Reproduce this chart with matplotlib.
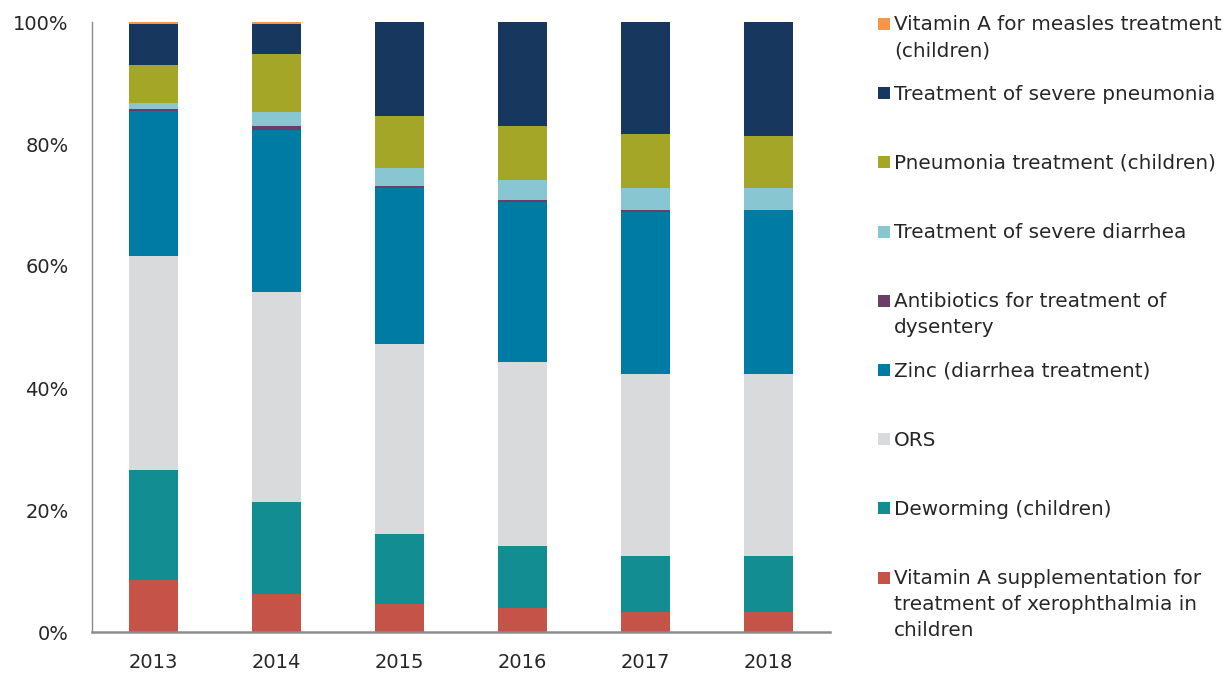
import matplotlib
matplotlib.use("Agg")
import matplotlib.pyplot as plt
import numpy as np

years = ["2013", "2014", "2015", "2016", "2017", "2018"]

# series, bottom to top (percent of total)
vita_xero = [8.5, 6.2, 4.6, 3.9, 3.3, 3.3]
deworming = [18.0, 15.1, 11.5, 10.2, 9.2, 9.2]
ors = [35.1, 34.4, 31.1, 30.2, 29.8, 29.8]
zinc = [23.8, 26.6, 25.6, 26.2, 26.6, 26.9]
antibiotics = [0.4, 0.65, 0.33, 0.33, 0.33, 0.0]
severe_diarrhea = [1.0, 2.3, 2.95, 3.3, 3.6, 3.6]
pneumonia = [6.2, 9.5, 8.5, 8.85, 8.85, 8.5]
severe_pneumonia = [6.6, 4.9, 15.4, 17.0, 18.4, 18.7]
vita_measles = [0.4, 0.4, 0.0, 0.0, 0.0, 0.0]

series = [
    (vita_xero, "Vitamin A supplementation for\ntreatment of xerophthalmia in\nchildren", "#C55347"),
    (deworming, "Deworming (children)", "#128E92"),
    (ors, "ORS", "#D9DADC"),
    (zinc, "Zinc (diarrhea treatment)", "#007BA4"),
    (antibiotics, "Antibiotics for treatment of\ndysentery", "#6B3D6A"),
    (severe_diarrhea, "Treatment of severe diarrhea", "#88C6D1"),
    (pneumonia, "Pneumonia treatment (children)", "#A4A627"),
    (severe_pneumonia, "Treatment of severe pneumonia", "#17375E"),
    (vita_measles, "Vitamin A for measles treatment\n(children)", "#F79646"),
]

plt.rcParams['font.family'] = ['DejaVu Sans']
W, H = 1229, 675
fig = plt.figure(figsize=(W / 100, H / 100), dpi=100)
ax = fig.add_axes([92 / W, 1 - 632 / H, (830 - 92) / W, (632 - 22) / H])

x = np.arange(len(years))
bottom = np.zeros(len(years))
for vals, label, color in series:
    v = np.array(vals, dtype=float)
    ax.bar(x, v, bottom=bottom, width=0.4, color=color, label=label, linewidth=0)
    bottom += v

ax.set_xlim(-0.5, len(years) - 0.5)
ax.set_ylim(0, 100)
ax.set_yticks([0, 20, 40, 60, 80, 100])
ax.set_yticklabels([f"{t}%" for t in [0, 20, 40, 60, 80, 100]])
ax.set_xticks(x)
ax.set_xticklabels(years)
ax.tick_params(axis='both', length=0, labelsize=14, colors='#262626')
ax.tick_params(axis='y', pad=17)
ax.tick_params(axis='x', pad=15)
for s in ['top', 'right']:
    ax.spines[s].set_visible(False)
ax.spines['left'].set_color('#8C8C8C')
ax.spines['left'].set_linewidth(1.0)
ax.spines['bottom'].set_color('#8C8C8C')
ax.spines['bottom'].set_linewidth(1.8)

# manual legend (top entry first)
sq = 12
y0 = 24
step = 69.2
line_h = 26
for i, (vals, label, color) in enumerate(reversed(series)):
    yc = y0 + step * i
    fig.patches.append(matplotlib.patches.Rectangle(
        (878 / W, 1 - (yc + sq / 2) / H), sq / W, sq / H,
        transform=fig.transFigure, facecolor=color, edgecolor='none'))
    for j, ln in enumerate(label.split("\n")):
        fig.text(894 / W, 1 - (yc + 1 + j * line_h) / H, ln, fontsize=14.4,
                 color='#262626', va='center', ha='left')

fig.savefig("out.png", dpi=100)
